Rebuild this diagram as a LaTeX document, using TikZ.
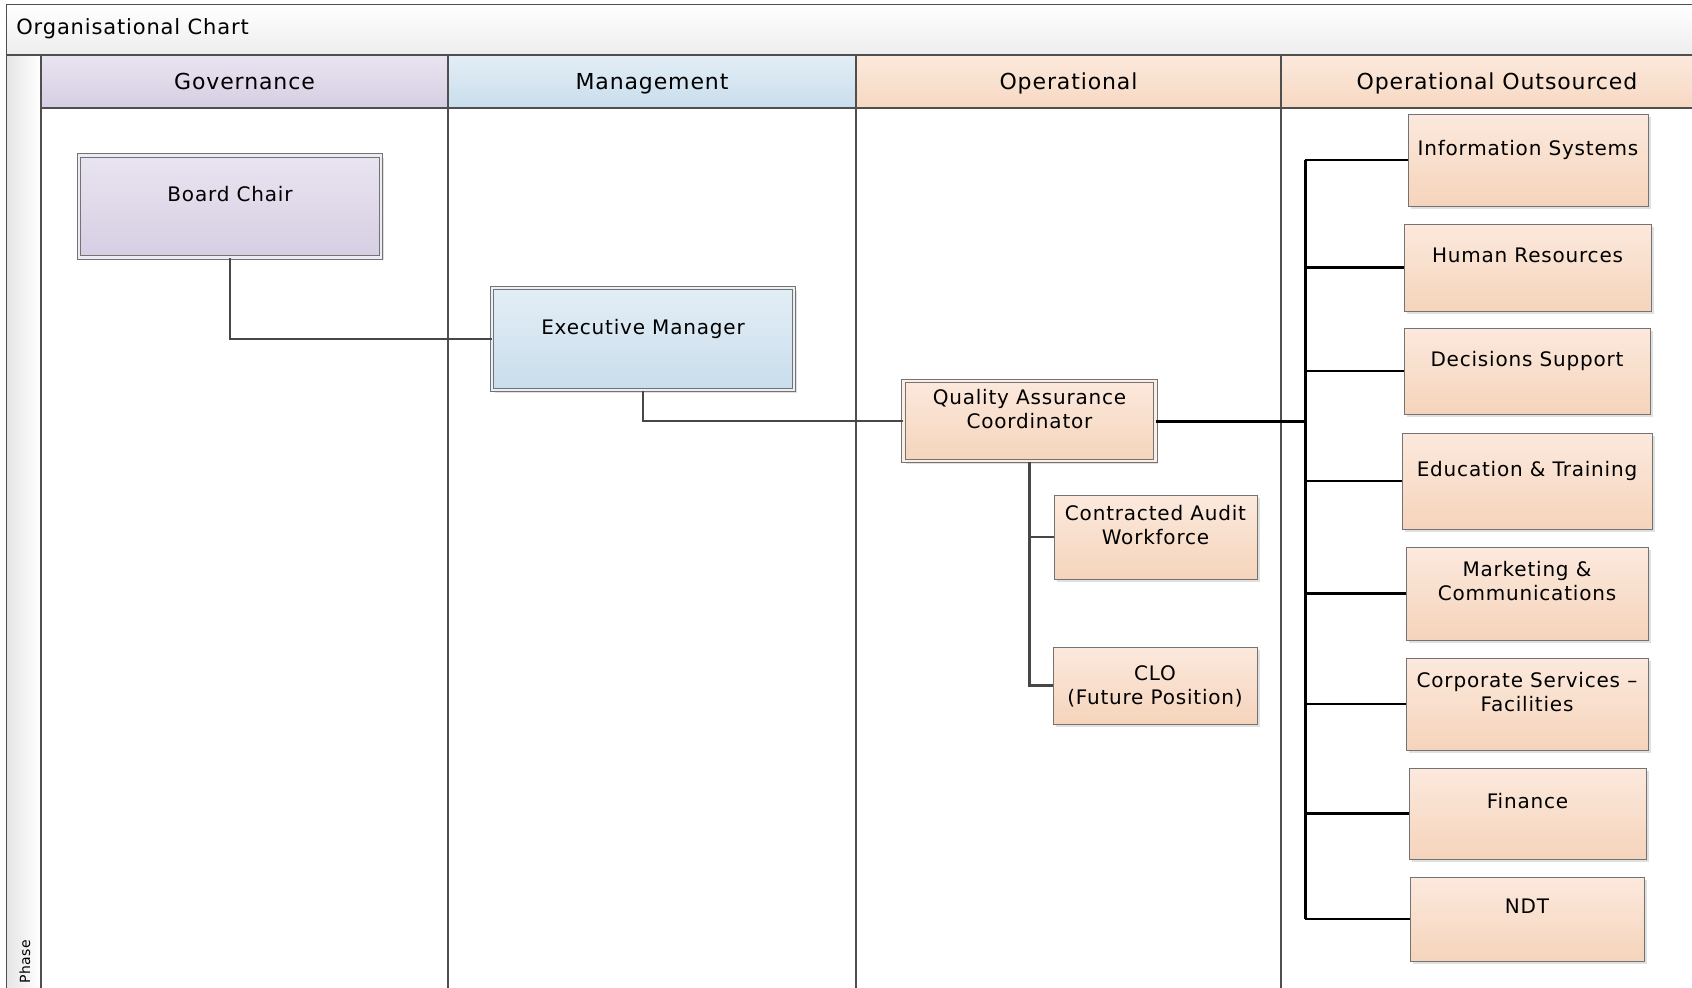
\documentclass[tikz,border=0pt]{standalone}
\usepackage{fontspec}
\setmainfont{DejaVu Sans}[LetterSpace=4]
\usepackage{tikz}
\usetikzlibrary{shadows}

\definecolor{govtop}{HTML}{E9E4F0}
\definecolor{govbot}{HTML}{D6CEE3}
\definecolor{mgttop}{HTML}{E3EEF6}
\definecolor{mgtbot}{HTML}{C9DDEC}
\definecolor{optop}{HTML}{FCE9DD}
\definecolor{opbot}{HTML}{F5D4BB}
\definecolor{frameline}{HTML}{4F4F4F}

\begin{document}
\begin{tikzpicture}[x=0.5pt,y=-0.5pt,
    lane/.style={draw=frameline, line width=0.7pt},
    head/.style={lane, inner sep=0pt, minimum height=26.5pt, text height=8pt, text depth=0.5pt,
        font=\fontsize{11}{13}\selectfont},
    role/.style={draw=black!55, line width=0.5pt, inner sep=2pt, align=center,
        font=\fontsize{10}{12}\selectfont, text depth=12.4pt,
        general shadow={fill=black!12, shadow xshift=1.3pt, shadow yshift=-1.3pt}},
    dbl/.style={double=white!60!#1, double distance=1.3pt},
    gov/.style={role, dbl=govbot, top color=govtop, bottom color=govbot},
    mgt/.style={role, dbl=mgtbot, top color=mgttop, bottom color=mgtbot},
    op/.style={role, top color=optop, bottom color=opbot},
    link/.style={draw=black!72, line width=1.2pt},
    bus/.style={draw=black, line width=1.5pt},
    branch/.style={draw=black, line width=1.1pt}]

\useasboundingbox (0,0) rectangle (1692,987);
\clip (0,0) rectangle (1692,987);
\fill[white] (0,0) rectangle (1692,987);

% frame, title bar and phase column
\shade[top color=white, bottom color=black!7] (6.5,4.5) rectangle (1720,55);
\shade[left color=black!10, right color=white] (6.5,55) rectangle (41,1000);
\draw[lane] (6.5,1000) -- (6.5,4.5) -- (1720,4.5);
\draw[lane] (6.5,55) -- (1720,55);
\node[anchor=west, inner sep=0pt, font=\fontsize{10.5}{12}\selectfont] (title) at (16,29) {Organisational Chart};
\node[rotate=90, anchor=west, inner sep=0pt, font=\fontsize{7}{8}\selectfont] (phase) at (25,984) {Phase};

% swimlane headers
\node[head, top color=govtop, bottom color=govbot, minimum width=203.5pt] (hgov) at (244.5,81.5) {Governance};
\node[head, top color=mgttop, bottom color=mgtbot, minimum width=204pt] (hmgt) at (652,81.5) {Management};
\node[head, top color=optop, bottom color=opbot!80!optop, minimum width=212.5pt] (hop) at (1068.5,81.5) {Operational};
\node[head, top color=optop, bottom color=opbot!80!optop, minimum width=216pt] (hout) at (1497,81.5) {Operational Outsourced};
\foreach \x in {41,448,856,1281}
    \draw[lane] (\x,55) -- (\x,1000);

% roles
\node[gov, minimum width=151pt, minimum height=51pt] (board) at (230,206.5) {Board Chair};
\node[mgt, minimum width=151pt, minimum height=51pt] (exec) at (643,339) {Executive Manager};
\node[op, dbl=opbot, minimum width=126pt, minimum height=40pt] (qac) at (1029.5,421) {Quality Assurance\\Coordinator};
\node[op, minimum width=101.5pt, minimum height=42pt] (audit) at (1155.5,537) {Contracted Audit\\Workforce};
\node[op, text depth=0pt, minimum width=102pt, minimum height=38.5pt] (clo) at (1155,685.5) {CLO\\(Future Position)};

\node[op, minimum width=120pt, minimum height=46pt] (infosys) at (1528,160) {Information Systems};
\node[op, minimum width=123.5pt, minimum height=43.5pt] (hr) at (1527.5,267.5) {Human Resources};
\node[op, minimum width=123pt, minimum height=43pt] (decision) at (1527,371) {Decisions Support};
\node[op, minimum width=125pt, minimum height=48pt] (training) at (1527,481) {Education \& Training};
\node[op, minimum width=121pt, minimum height=46.5pt] (marketing) at (1527,593.5) {Marketing \&\\Communications};
\node[op, minimum width=121pt, minimum height=46pt] (corporate) at (1527,704) {Corporate Services --\\Facilities};
\node[op, minimum width=118.5pt, minimum height=45.5pt] (finance) at (1527.5,813.5) {Finance};
\node[op, minimum width=117pt, minimum height=42pt] (ndt) at (1527,919) {NDT};

% reporting lines
\draw[link] (board.south) |- (exec.west);
\draw[link] (exec.south) |- (qac.west);
\draw[link] (qac.south) |- (audit.west);
\draw[link] (qac.south) |- (clo.west);

\coordinate (hub) at (1305,421);
\draw[bus] (qac.east) -- (hub);
\draw[bus] (infosys.west -| hub) -- (ndt.west -| hub);
\foreach \n in {infosys,hr,decision,training,marketing,corporate,finance,ndt}
    \draw[branch] (\n.west) -- (\n.west -| hub);

\end{tikzpicture}
\end{document}
